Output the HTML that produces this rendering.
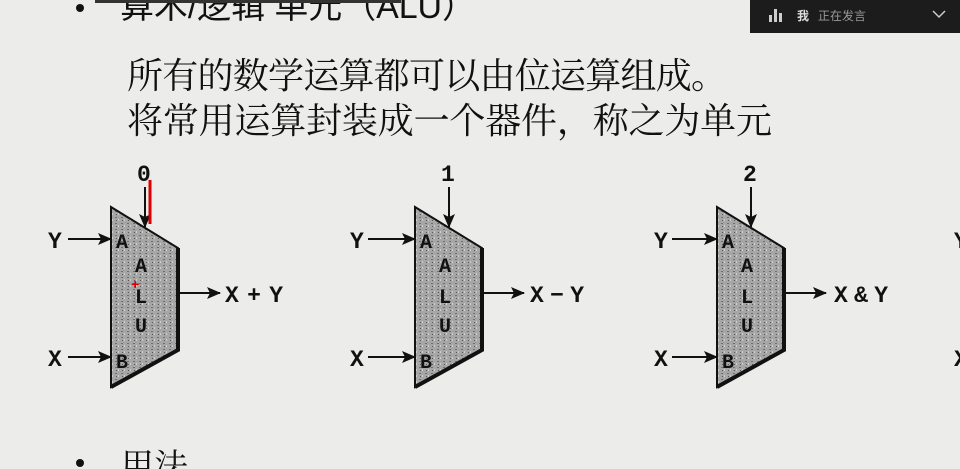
<!DOCTYPE html>
<html><head><meta charset="utf-8"><style>
html,body{margin:0;padding:0;width:960px;height:469px;overflow:hidden;background:#ececea;}
svg{display:block}
</style></head><body>
<svg width="960" height="469" viewBox="0 0 960 469" xmlns="http://www.w3.org/2000/svg">
<defs>
<marker id="ah" markerWidth="14" markerHeight="12" refX="13" refY="6" orient="auto" markerUnits="userSpaceOnUse">
<path d="M0,0 L14,6 L0,12 L3,6 Z" fill="#111"/>
</marker>
<pattern id="grain" width="6" height="6" patternUnits="userSpaceOnUse">
<rect width="6" height="6" fill="#a6a6a6"/>
<rect x="1" y="1" width="2" height="1" fill="#6f6f6f"/>
<rect x="4" y="3" width="1" height="2" fill="#d0d0d0"/>
<rect x="2" y="4" width="1" height="1" fill="#555"/>
</pattern>
</defs>
<rect width="960" height="469" fill="#ececea"/>
<circle cx="80" cy="8" r="4" fill="#111"/>
<text x="120" y="18" font-family="Liberation Sans, Noto Sans CJK SC, sans-serif" font-size="34" fill="#111" textLength="356">算术/逻辑 单元（ALU）</text>
<rect x="95" y="0" width="306" height="3" fill="#333"/>
<rect x="750" y="0" width="210" height="33" fill="#1c1c1c"/>
<rect x="769" y="15" width="3" height="7" fill="#ccc"/><rect x="774" y="9" width="3" height="13" fill="#ccc"/><rect x="779" y="13" width="3" height="9" fill="#ccc"/>
<text x="797" y="20" font-family="Liberation Sans, Noto Sans CJK SC, sans-serif" font-size="12" fill="#ddd" font-weight="bold">我</text>
<text x="818" y="20" font-family="Liberation Sans, Noto Sans CJK SC, sans-serif" font-size="12" fill="#999">正在发言</text>
<path d="M933,11 L939,17 L945,11" stroke="#ccc" stroke-width="1.5" fill="none"/>
<text x="127" y="88" font-family="Liberation Serif, Noto Serif CJK SC, serif" font-size="36" fill="#111" textLength="600">所有的数学运算都可以由位运算组成。</text>
<text x="127" y="133" font-family="Liberation Serif, Noto Serif CJK SC, serif" font-size="36" fill="#111" textLength="645">将常用运算封装成一个器件，称之为单元</text>
<g font-family="Liberation Mono, monospace" font-weight="bold" fill="#111" font-size="23">
<g>
<path d="M111,207 L178,248 L178,350 L111,387 Z" fill="url(#grain)" stroke="#111" stroke-width="2"/>
<path d="M178,248 L178,350 L111,387" fill="none" stroke="#111" stroke-width="4"/>
<text x="137" y="181">0</text>
<line x1="145" y1="187" x2="145" y2="227" stroke="#111" stroke-width="2" marker-end="url(#ah)"/>
<text x="48" y="248">Y</text><line x1="68" y1="239" x2="111" y2="239" stroke="#111" stroke-width="2" marker-end="url(#ah)"/>
<text x="48" y="366">X</text><line x1="68" y1="357" x2="111" y2="357" stroke="#111" stroke-width="2" marker-end="url(#ah)"/>
<line x1="179" y1="293" x2="220" y2="293" stroke="#111" stroke-width="2" marker-end="url(#ah)"/>
<text x="116" y="248" font-size="20">A</text><text x="135" y="272" font-size="20">A</text><text x="135" y="303" font-size="20">L</text><text x="135" y="332" font-size="20">U</text><text x="116" y="368" font-size="20">B</text>
</g>
<text x="225" y="302" textLength="58">X+Y</text>
<line x1="150" y1="180" x2="150" y2="224" stroke="#d00" stroke-width="3"/>
<text x="131" y="289" font-size="14" fill="#d00">+</text>
<g transform="translate(304,0)">
<path d="M111,207 L178,248 L178,350 L111,387 Z" fill="url(#grain)" stroke="#111" stroke-width="2"/>
<path d="M178,248 L178,350 L111,387" fill="none" stroke="#111" stroke-width="4"/>
<text x="137" y="181">1</text>
<line x1="145" y1="187" x2="145" y2="227" stroke="#111" stroke-width="2" marker-end="url(#ah)"/>
<text x="46" y="248">Y</text><line x1="64" y1="239" x2="111" y2="239" stroke="#111" stroke-width="2" marker-end="url(#ah)"/>
<text x="46" y="366">X</text><line x1="64" y1="357" x2="111" y2="357" stroke="#111" stroke-width="2" marker-end="url(#ah)"/>
<line x1="179" y1="293" x2="220" y2="293" stroke="#111" stroke-width="2" marker-end="url(#ah)"/>
<text x="116" y="248" font-size="20">A</text><text x="135" y="272" font-size="20">A</text><text x="135" y="303" font-size="20">L</text><text x="135" y="332" font-size="20">U</text><text x="116" y="368" font-size="20">B</text>
<text x="226" y="302" textLength="54">X−Y</text>
</g>
<g transform="translate(606,0)">
<path d="M111,207 L178,248 L178,350 L111,387 Z" fill="url(#grain)" stroke="#111" stroke-width="2"/>
<path d="M178,248 L178,350 L111,387" fill="none" stroke="#111" stroke-width="4"/>
<text x="137" y="181">2</text>
<line x1="145" y1="187" x2="145" y2="227" stroke="#111" stroke-width="2" marker-end="url(#ah)"/>
<text x="48" y="248">Y</text><line x1="66" y1="239" x2="111" y2="239" stroke="#111" stroke-width="2" marker-end="url(#ah)"/>
<text x="48" y="366">X</text><line x1="66" y1="357" x2="111" y2="357" stroke="#111" stroke-width="2" marker-end="url(#ah)"/>
<line x1="179" y1="293" x2="220" y2="293" stroke="#111" stroke-width="2" marker-end="url(#ah)"/>
<text x="116" y="248" font-size="20">A</text><text x="135" y="272" font-size="20">A</text><text x="135" y="303" font-size="20">L</text><text x="135" y="332" font-size="20">U</text><text x="116" y="368" font-size="20">B</text>
<text x="228" y="302" textLength="54">X&amp;Y</text>
</g>
<text x="954" y="248">Y</text><text x="954" y="366">X</text>
</g>
<circle cx="80" cy="463" r="4" fill="#111"/>
<text x="120" y="478" font-family="Liberation Serif, Noto Serif CJK SC, serif" font-size="34" fill="#111">用法</text>
</svg>
</body></html>
